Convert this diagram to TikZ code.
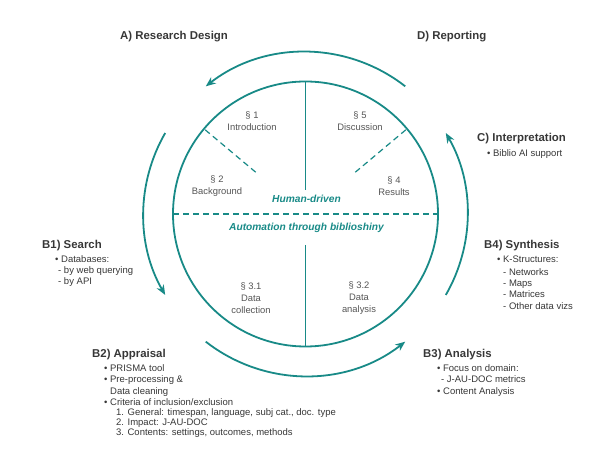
\documentclass[tikz,border=0pt]{standalone}
\usepackage{fontspec}
\setmainfont{Liberation Sans}
\usepackage{tikz}
\usetikzlibrary{arrows.meta}

\definecolor{cycteal}{RGB}{24,138,135}
\definecolor{txtgrey}{RGB}{55,55,55}
\definecolor{secgrey}{RGB}{85,85,85}

\begin{document}
\begin{tikzpicture}[x=1pt,y=1pt]
		\useasboundingbox (0,0) rectangle (600,473);
		\coordinate (O) at (305.5,259);

		% inner circle
		\begin{scope}[draw=cycteal, line width=1.8pt]
			\draw (O) circle[radius=132.5];
			\draw [line width=1.3pt] ([yshift=132.5]O) -- ([yshift=24]O);
			\draw [line width=1.3pt] ([yshift=-31]O) -- ([yshift=-132.5]O);
		\end{scope}

		\begin{scope}[draw=cycteal, line width=1.2pt, dash pattern=on 6pt off 4pt]
			\draw ([xshift=-132.5]O) -- ([xshift=132.5]O);
			\draw ([shift={(140:65)}]O) -- ([shift={(140:132.5)}]O);
			\draw ([shift={(40:65)}]O) -- ([shift={(40:132.5)}]O);
		\end{scope}

		% outer cycle
		\begin{scope}[>={Stealth[length=10pt,width=8pt]}, draw=cycteal, line width=1.8pt]
			\draw [->] ([shift={(52:162)}]O) arc[start angle=52, end angle=128, radius=162];
			\draw [->] ([shift={(150:162)}]O) arc[start angle=150, end angle=210, radius=162];
			\draw [->] ([shift={(232:162)}]O) arc[start angle=232, end angle=308, radius=162];
			\draw [->] ([shift={(330:162)}]O) arc[start angle=330, end angle=390, radius=162];
		\end{scope}

		\begin{scope}[every node/.style={align=center, inner sep=0pt, text=secgrey,
					  font=\fontsize{9.4}{12}\selectfont}]
			\node (s1) at (252,351.5) {§ 1\\Introduction};
			\node (s5) at (360,351.5) {§ 5\\Discussion};
			\node (s2) at (217,287) {§ 2\\Background};
			\node (s4) at (394,287) {§ 4\\Results};
			\node (s31) at (251,175) {§ 3.1\\Data\\collection};
			\node (s32) at (359,175) {§ 3.2\\Data\\analysis};
		\end{scope}

		\begin{scope}[every node/.style={inner sep=0pt, text=cycteal,
					  font=\fontsize{10.2}{12}\selectfont\bfseries\itshape}]
			\node (hd) at (306.5,274) {Human-driven};
			\node (ab) at (306.5,245) {Automation through biblioshiny};
		\end{scope}

		\begin{scope}[every node/.style={inner sep=0pt, anchor=base west, text=txtgrey,
					  font=\fontsize{11.4}{13}\selectfont\bfseries}]
			\node (A) at (120,433) {A) Research Design};
			\node (D) at (417,433) {D) Reporting};
			\node (B1) at (42,224) {B1) Search};
			\node (C) at (477,331) {C) Interpretation};
			\node (B4) at (484,224) {B4) Synthesis};
			\node (B2) at (92,115) {B2) Appraisal};
			\node (B3) at (423,115) {B3) Analysis};
		\end{scope}

		\begin{scope}[every node/.style={inner sep=0pt, anchor=north west, align=left,
					  text=txtgrey, font=\fontsize{9.5}{11.3}\selectfont}]
			\node (B1l) at ([shift={(13,-6.6)}]B1.base west)
				{• Databases:\\ \hspace*{3pt}- by web querying\\[-1pt] \hspace*{3pt}- by API};
			\node (Cl) at ([shift={(10,-7.6)}]C.base west) {• Biblio AI support};
			\node (B4l) at ([shift={(13,-6.6)}]B4.base west)
				{• K-Structures:\\[1.5pt] \hspace*{6pt}- Networks\\ \hspace*{6pt}- Maps\\
				 \hspace*{6pt}- Matrices\\ \hspace*{6pt}- Other data vizs};
			\node (B2l) at ([shift={(12,-6.6)}]B2.base west)
				{• PRISMA tool\\ • Pre-processing \&\\ \hspace*{6pt}Data cleaning\\
				 • Criteria of inclusion/exclusion\\[-1pt]
				 \hspace*{12pt}1. General: timespan, language, subj cat., doc. type\\[-1.5pt]
				 \hspace*{12pt}2. Impact: J-AU-DOC\\[-1.5pt]
				 \hspace*{12pt}3. Contents: settings, outcomes, methods};
			\node (B3l) at ([shift={(14,-6.6)}]B3.base west)
				{• Focus on domain:\\ \hspace*{4pt}- J-AU-DOC metrics\\ • Content Analysis};
		\end{scope}
\end{tikzpicture}
\end{document}
